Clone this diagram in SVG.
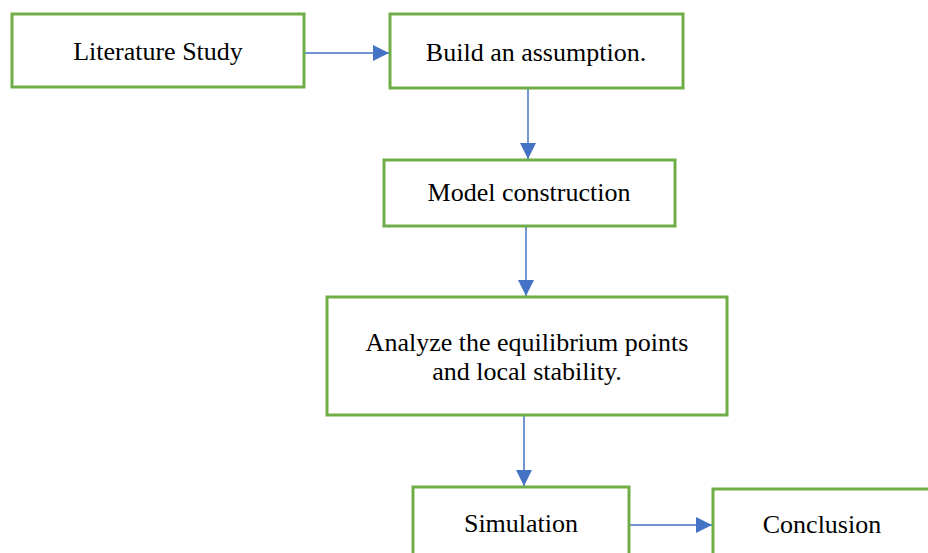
<svg xmlns="http://www.w3.org/2000/svg" width="928" height="553" viewBox="0 0 928 553">
<style>
.box{fill:#fff;stroke:#70AD47;stroke-width:3}
.lbl{font-family:"Liberation Serif","Times New Roman",serif;font-size:26px;fill:#000;text-anchor:middle}
.con{stroke:#4472C4;stroke-width:1.5;fill:none}
</style>
<defs>
<marker id="ah" markerUnits="userSpaceOnUse" markerWidth="16" markerHeight="16" viewBox="0 0 14 14" refX="14" refY="7" orient="auto">
<path d="M0,0 L14,7 L0,14 Z" fill="#4472C4"/>
</marker>
</defs>
<rect width="928" height="553" fill="#fff"/>
<g id="connectors">
<line class="con" x1="304" y1="53" x2="389" y2="53" marker-end="url(#ah)"/>
<line class="con" x1="528" y1="88" x2="528" y2="159" marker-end="url(#ah)"/>
<line class="con" x1="526" y1="226" x2="526" y2="296" marker-end="url(#ah)"/>
<line class="con" x1="524" y1="415" x2="524" y2="486" marker-end="url(#ah)"/>
<line class="con" x1="629" y1="525" x2="712" y2="525" marker-end="url(#ah)"/>
</g>
<g id="literature">
<rect class="box" x="12" y="14" width="292" height="73"/>
<text class="lbl" x="158" y="60">Literature Study</text>
</g>
<g id="assumption">
<rect class="box" x="390" y="14" width="293" height="74"/>
<text class="lbl" x="536" y="61">Build an assumption.</text>
</g>
<g id="model">
<rect class="box" x="384" y="160" width="291" height="66"/>
<text class="lbl" x="529" y="201">Model construction</text>
</g>
<g id="analyze">
<rect class="box" x="327" y="297" width="400" height="118"/>
<text class="lbl" x="527" y="351">Analyze the equilibrium points</text>
<text class="lbl" x="527" y="380">and local stability.</text>
</g>
<g id="simulation">
<rect class="box" x="413" y="487" width="216" height="80"/>
<text class="lbl" x="521" y="532">Simulation</text>
</g>
<g id="conclusion">
<rect class="box" x="713" y="489" width="220" height="80"/>
<text class="lbl" x="822" y="533">Conclusion</text>
</g>
</svg>
